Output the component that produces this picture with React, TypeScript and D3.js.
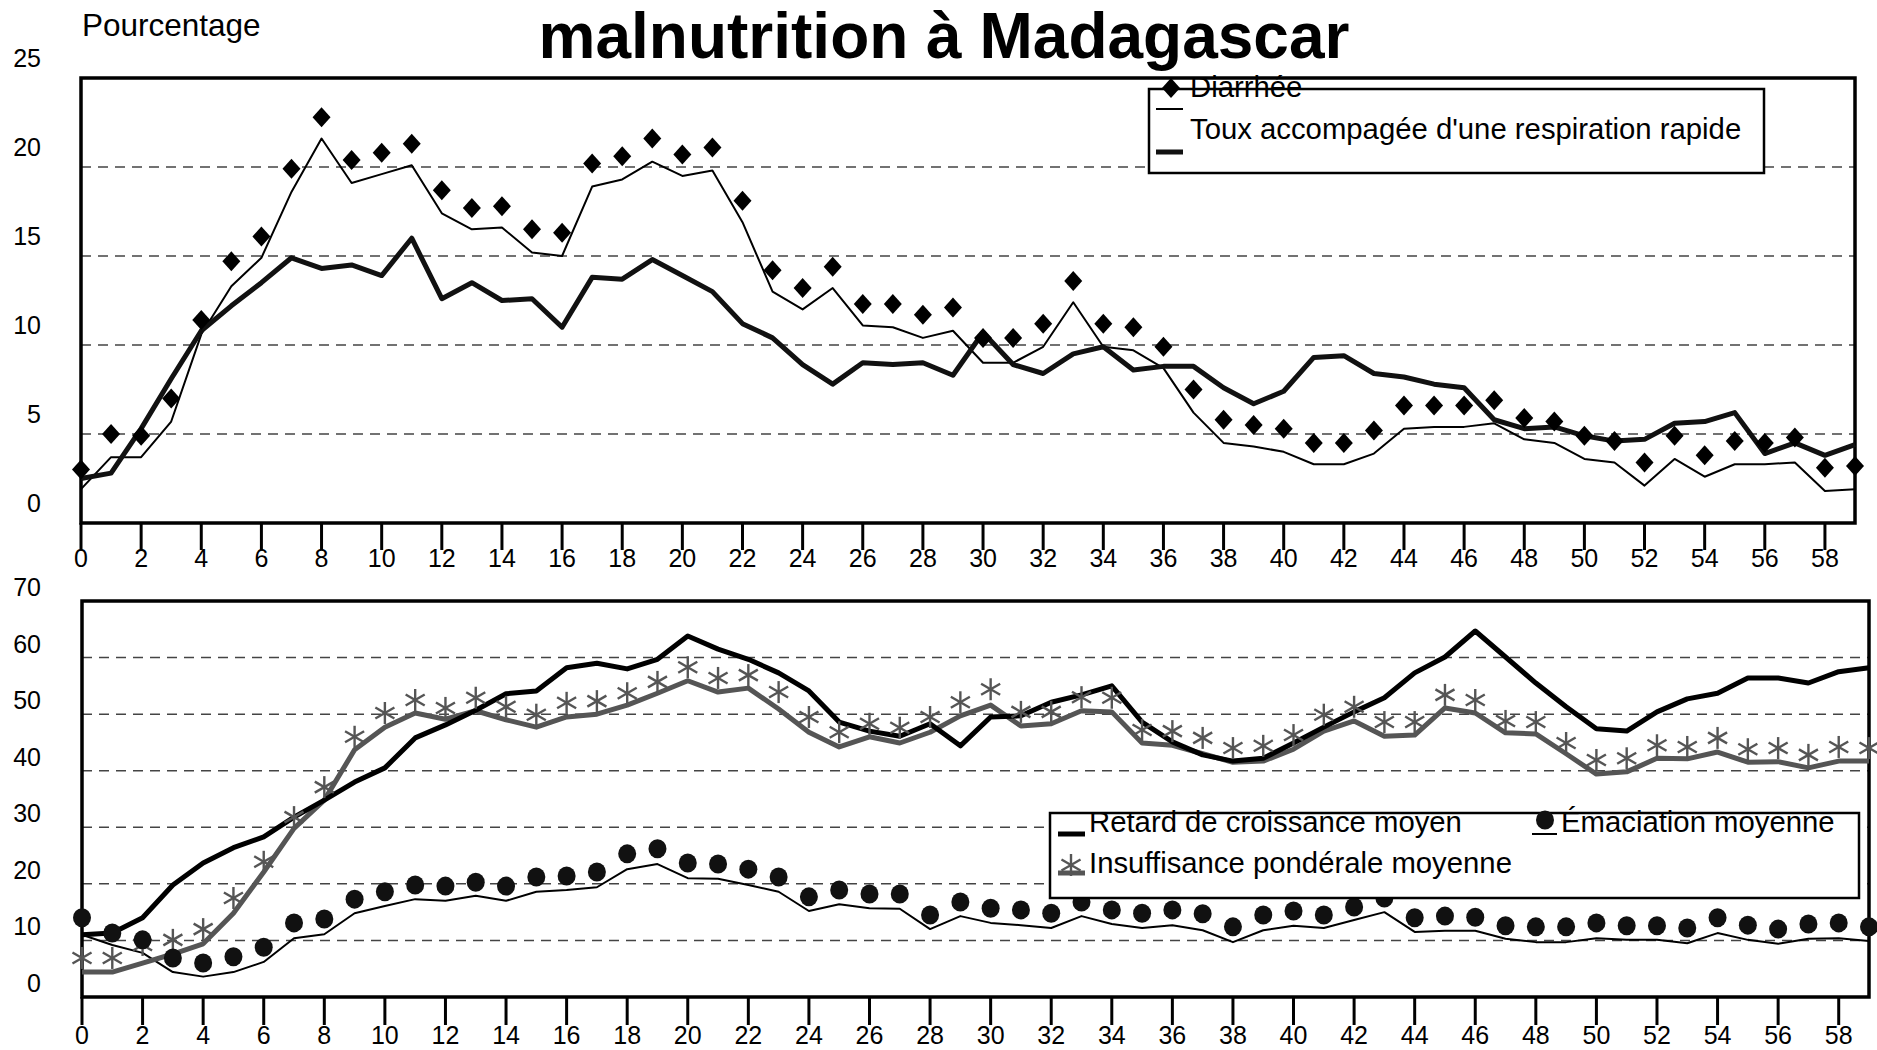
import React from "react";
import * as d3 from "d3";

// age in months
const ages = d3.range(0, 60);
const xTickLabels = d3.range(0, 60, 2);
const topTicks = [0, 5, 10, 15, 20, 25];
const bottomTicks = [0, 10, 20, 30, 40, 50, 60, 70];

// top panel
const diarrhee = [3.0, 5.0, 4.9, 7.0, 11.4, 14.7, 16.1, 19.9, 22.8, 20.4, 20.8, 21.3, 18.7, 17.7, 17.8, 16.5, 16.3, 20.2, 20.6, 21.6, 20.7, 21.1, 18.1, 14.2, 13.2, 14.4, 12.3, 12.3, 11.7, 12.1, 10.4, 10.4, 11.2, 13.6, 11.2, 11.0, 9.9, 7.5, 5.8, 5.5, 5.3, 4.5, 4.5, 5.2, 6.6, 6.6, 6.6, 6.9, 5.9, 5.7, 4.9, 4.6, 3.4, 4.9, 3.8, 4.6, 4.5, 4.8, 3.1, 3.2];
const fievre = [1.9, 3.7, 3.7, 5.7, 10.6, 13.3, 14.9, 18.6, 21.6, 19.1, 19.6, 20.1, 17.4, 16.5, 16.6, 15.2, 15.0, 18.9, 19.3, 20.3, 19.5, 19.8, 16.9, 13.0, 12.0, 13.2, 11.1, 11.0, 10.4, 10.8, 9.0, 9.0, 9.9, 12.4, 9.9, 9.7, 8.7, 6.2, 4.5, 4.3, 4.0, 3.3, 3.3, 3.9, 5.3, 5.4, 5.4, 5.6, 4.7, 4.5, 3.6, 3.4, 2.1, 3.6, 2.6, 3.3, 3.3, 3.4, 1.8, 1.9];
const toux = [2.5, 2.8, 5.3, 8.1, 10.8, 12.2, 13.5, 14.9, 14.3, 14.5, 13.9, 16.0, 12.6, 13.5, 12.5, 12.6, 11.0, 13.8, 13.7, 14.8, 13.9, 13.0, 11.2, 10.4, 8.9, 7.8, 9.0, 8.9, 9.0, 8.3, 10.7, 8.9, 8.4, 9.5, 9.9, 8.6, 8.8, 8.8, 7.6, 6.7, 7.4, 9.3, 9.4, 8.4, 8.2, 7.8, 7.6, 5.8, 5.3, 5.4, 4.9, 4.6, 4.7, 5.6, 5.7, 6.2, 3.9, 4.5, 3.8, 4.4];

// bottom panel
const retard = [11.0, 11.3, 14.0, 19.8, 23.7, 26.4, 28.3, 31.8, 34.8, 38.0, 40.5, 45.8, 48.1, 50.7, 53.6, 54.1, 58.2, 59.0, 58.0, 59.7, 63.8, 61.5, 59.7, 57.3, 54.1, 48.6, 47.0, 46.1, 48.3, 44.4, 49.5, 49.7, 52.1, 53.4, 55.0, 48.6, 45.1, 42.8, 41.7, 42.2, 44.9, 47.7, 50.4, 52.9, 57.3, 60.1, 64.7, 60.1, 55.5, 51.3, 47.4, 47.0, 50.4, 52.7, 53.7, 56.4, 56.4, 55.5, 57.5, 58.2];
const insuffisance = [4.4, 4.4, 6.0, 7.6, 9.4, 14.8, 22.1, 29.8, 34.8, 43.7, 47.7, 50.2, 49.1, 50.6, 49.0, 47.7, 49.5, 50.0, 51.6, 53.7, 55.9, 53.9, 54.6, 50.9, 46.8, 44.2, 46.0, 44.9, 46.8, 49.7, 51.6, 47.9, 48.3, 50.6, 50.4, 44.9, 44.5, 43.0, 41.5, 41.7, 43.8, 47.0, 48.8, 46.1, 46.3, 51.1, 50.2, 46.7, 46.5, 43.0, 39.4, 39.8, 42.2, 42.1, 43.3, 41.5, 41.6, 40.5, 41.7, 41.7];
const insuffisancePts = [6.9, 6.9, 9.2, 10.1, 12.0, 17.5, 23.9, 31.8, 37.1, 46.0, 50.2, 52.5, 51.1, 52.9, 51.3, 49.9, 52.0, 52.3, 53.7, 55.7, 58.3, 56.4, 56.9, 53.9, 49.5, 46.8, 48.3, 47.6, 49.5, 52.1, 54.4, 50.4, 50.4, 53.0, 52.9, 47.2, 47.0, 45.8, 44.0, 44.4, 46.3, 49.9, 51.3, 48.6, 48.6, 53.4, 52.5, 48.8, 48.6, 44.9, 41.9, 42.2, 44.5, 44.2, 45.8, 43.8, 44.0, 42.8, 44.2, 44.0];
const emaciation = [11.0, 9.2, 7.8, 4.4, 3.6, 4.4, 6.2, 10.4, 11.1, 14.8, 16.1, 17.3, 17.0, 17.9, 17.0, 18.6, 18.9, 19.4, 22.6, 23.5, 21.0, 20.9, 19.8, 18.6, 15.2, 16.4, 15.7, 15.6, 12.0, 14.3, 13.1, 12.7, 12.2, 14.3, 12.9, 12.2, 12.7, 11.8, 9.7, 11.8, 12.6, 12.2, 13.6, 15.0, 11.5, 11.7, 11.7, 10.3, 9.7, 9.7, 10.4, 10.1, 10.1, 9.5, 11.3, 10.1, 9.4, 10.3, 10.4, 9.9];
const emaciationPts = [14.0, 11.3, 10.1, 6.9, 6.0, 7.1, 8.8, 13.1, 13.8, 17.3, 18.6, 19.8, 19.6, 20.3, 19.6, 21.2, 21.4, 22.1, 25.3, 26.2, 23.7, 23.5, 22.6, 21.2, 17.7, 18.9, 18.2, 18.2, 14.5, 16.8, 15.7, 15.4, 14.8, 16.8, 15.4, 14.8, 15.4, 14.7, 12.4, 14.5, 15.2, 14.5, 15.9, 17.5, 14.0, 14.3, 14.1, 12.6, 12.4, 12.4, 13.1, 12.6, 12.6, 12.2, 14.0, 12.7, 12.0, 12.9, 13.1, 12.4];

const FONT = "'Liberation Sans', Arial, sans-serif";
const GRAY = "#555";
const GRID = "#444";

const xTop = d3.scaleLinear().domain([0, 59]).range([81, 1855]);
const yTop = d3.scaleLinear().domain([0, 25]).range([523, 78]);
const xBot = d3.scaleLinear().domain([0, 59]).range([82, 1869]);
const yBot = d3.scaleLinear().domain([0, 70]).range([997, 601]);

const diamond = "M0,-10L9,0L0,10L-9,0Z";

const Star = ({ x, y, r = 11 }) => (
  <g transform={`translate(${x},${y})`} stroke={GRAY} strokeWidth={2.4}>
    {[90, 30, 150].map((a) => {
      const rad = (a * Math.PI) / 180;
      return (
        <line
          key={a}
          x1={-r * Math.cos(rad)}
          y1={-r * Math.sin(rad)}
          x2={r * Math.cos(rad)}
          y2={r * Math.sin(rad)}
        />
      );
    })}
  </g>
);

const Panel = ({ x, y, ticks, grid, labelShift, tickBase, labelBase }) => {
  const [x0, x1] = x.range();
  const [y0, y1] = y.range();
  return (
    <g fontFamily={FONT}>
      {grid.map((v) => (
        <line key={v} x1={x0} x2={x1} y1={y(v)} y2={y(v)} stroke={GRID} strokeWidth={1.5} strokeDasharray="10,7" />
      ))}
      {ticks.map((v) => (
        <text key={v} x={41} y={y(v) - labelShift} textAnchor="end" fontSize={25}>
          {v}
        </text>
      ))}
      {xTickLabels.map((v) => (
        <g key={v}>
          <line x1={x(v)} x2={x(v)} y1={y0} y2={tickBase} stroke="#000" strokeWidth={3} />
          <text x={x(v)} y={labelBase} textAnchor="middle" fontSize={25}>
            {v}
          </text>
        </g>
      ))}
      <rect x={x0} y={y1} width={x1 - x0} height={y0 - y1} fill="none" stroke="#000" strokeWidth={3.5} />
    </g>
  );
};

export default function App() {
  const lineTop = (vals) =>
    d3.line().x((_, i) => xTop(ages[i])).y((d) => yTop(d))(vals);
  const lineBot = (vals) =>
    d3.line().x((_, i) => xBot(ages[i])).y((d) => yBot(d))(vals);

  return (
    <svg
      width={1877}
      height={1050}
      style={{ position: "absolute", left: 0, top: 0, background: "#fff" }}
    >
      <rect width={1877} height={1050} fill="#fff" />
      <text x={944} y={58} textAnchor="middle" fontFamily={FONT} fontWeight="bold" fontSize={64}>
        malnutrition à Madagascar
      </text>
      <text x={82} y={36} fontFamily={FONT} fontSize={31.5}>
        Pourcentage
      </text>

      {/* top panel */}
      <Panel x={xTop} y={yTop} ticks={topTicks} grid={[5, 10, 15, 20]} labelShift={11} tickBase={550} labelBase={567} />
      <path d={lineTop(fievre)} fill="none" stroke="#000" strokeWidth={2} strokeLinejoin="round" />
      <path d={lineTop(toux)} fill="none" stroke="#111" strokeWidth={5} strokeLinejoin="round" />
      {diarrhee.map((v, i) => (
        <path key={i} d={diamond} transform={`translate(${xTop(ages[i])},${yTop(v)})`} fill="#000" />
      ))}

      {/* top legend */}
      <g fontFamily={FONT} fontSize={29.3}>
        <rect x={1149} y={89} width={615} height={84} fill="#fff" stroke="#000" strokeWidth={2.5} />
        <text x={1190} y={97}>Diarrhée</text>
        <path d={diamond} transform="translate(1171,88)" fill="#000" />
        <line x1={1156} x2={1183} y1={109} y2={109} stroke="#000" strokeWidth={2} />
        <text x={1190} y={139}>Toux accompagée d'une respiration rapide</text>
        <line x1={1156} x2={1183} y1={152} y2={152} stroke="#111" strokeWidth={5} />
      </g>

      {/* bottom panel */}
      <Panel x={xBot} y={yBot} ticks={bottomTicks} grid={[10, 20, 30, 40, 50, 60]} labelShift={5} tickBase={1025} labelBase={1044} />
      <path d={lineBot(emaciation)} fill="none" stroke="#000" strokeWidth={2} strokeLinejoin="round" />
      <path d={lineBot(insuffisance)} fill="none" stroke={GRAY} strokeWidth={5} strokeLinejoin="round" />
      <path d={lineBot(retard)} fill="none" stroke="#000" strokeWidth={5} strokeLinejoin="round" />
      {insuffisancePts.map((v, i) => (
        <Star key={i} x={xBot(ages[i])} y={yBot(v)} />
      ))}
      {emaciationPts.map((v, i) => (
        <ellipse key={i} cx={xBot(ages[i])} cy={yBot(v)} rx={9} ry={9.5} fill="#111" />
      ))}

      {/* bottom legend */}
      <g fontFamily={FONT} fontSize={29.3}>
        <rect x={1050} y={813} width={809} height={85} fill="#fff" stroke="#000" strokeWidth={2.5} />
        <line x1={1058} x2={1085} y1={834} y2={834} stroke="#000" strokeWidth={5} />
        <text x={1089} y={832}>Retard de croissance moyen</text>
        <ellipse cx={1545} cy={820} rx={9} ry={9.5} fill="#111" />
        <line x1={1532} x2={1557} y1={834} y2={834} stroke="#000" strokeWidth={2} />
        <text x={1561} y={832}>Émaciation moyenne</text>
        <line x1={1058} x2={1085} y1={873} y2={873} stroke={GRAY} strokeWidth={5} />
        <Star x={1071} y={865} />
        <text x={1089} y={873}>Insuffisance pondérale moyenne</text>
      </g>
    </svg>
  );
}
